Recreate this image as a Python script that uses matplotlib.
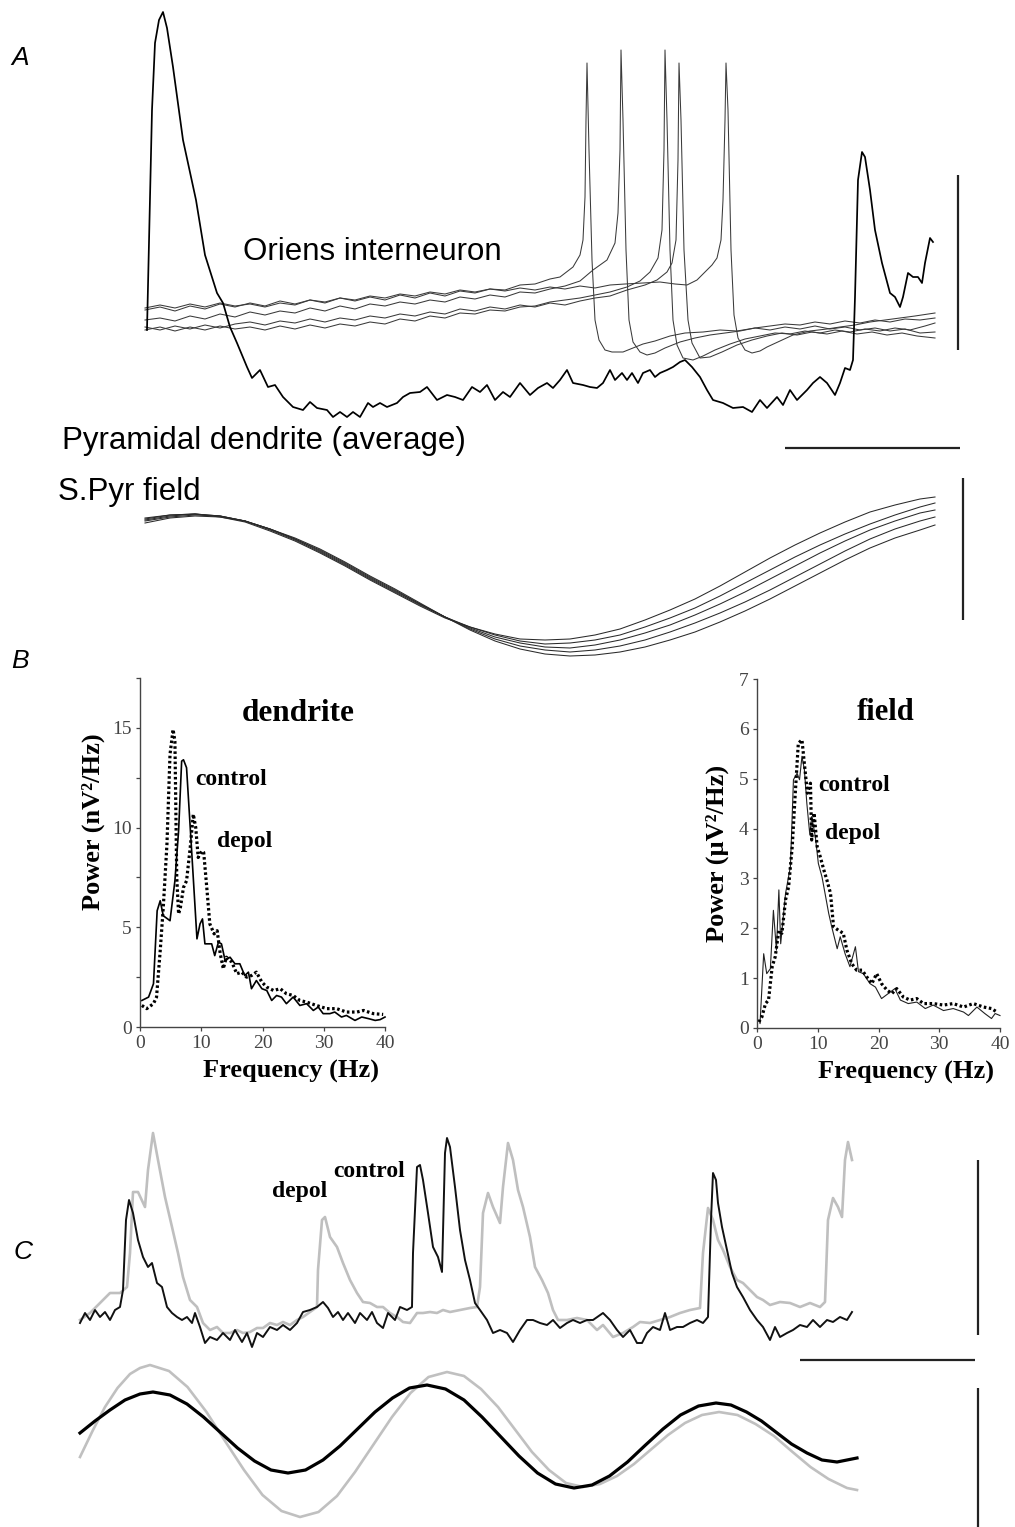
import matplotlib
matplotlib.use('Agg')
import matplotlib.pyplot as plt
from matplotlib.ticker import MultipleLocator

# ---------------- Panel A: oriens interneuron (5 sweeps) + dendrite average ----------------
# time in ms, voltage in mV (relative)
dend_t = [0.4, 1.4, 2.0, 2.8, 3.6, 4.4, 5.6, 7.6, 10.2, 12.0,
          14.4, 15.6, 17.0, 18.4, 20.4, 21.4, 23.0, 24.6, 26.0, 27.6,
          29.6, 31.6, 33.0, 34.4, 36.4, 37.6, 39.0, 40.4, 41.6, 43.0,
          44.6, 45.6, 47.0, 48.4, 50.4, 51.6, 53.0, 55.0, 56.4, 58.4,
          60.4, 62.0, 63.6, 65.4, 67.0, 68.4, 70.0, 71.6, 73.0, 75.0,
          77.0, 78.6, 80.4, 81.6, 83.0, 84.4, 85.6, 87.6, 89.0, 90.4,
          91.6, 93.0, 94.0, 95.4, 96.4, 97.4, 98.6, 99.6, 101.0, 102.0,
          103.0, 104.4, 105.6, 107.0, 108.0, 109.4, 111.0, 112.4, 113.6, 115.6,
          117.6, 119.6, 121.4, 123.0, 124.4, 126.4, 127.6, 129.0, 130.4, 132.4,
          133.6, 135.0, 136.4, 138.0, 139.0, 140.0, 141.0, 141.6, 142.0, 142.6,
          143.4, 144.0, 145.0, 146.0, 147.4, 149.0, 150.0, 151.0, 151.6, 152.6,
          153.6, 154.6, 155.4, 156.0, 157.0, 157.6]
dend_v = [0.0, 22.0, 28.7, 31.0, 31.8, 30.2, 26.3, 19.0, 13.0, 7.5,
          3.7, 2.7, 0.3, -1.3, -3.7, -4.8, -4.0, -5.7, -5.5, -6.7,
          -7.7, -8.0, -7.2, -7.8, -8.0, -8.7, -8.2, -8.7, -8.2, -8.7,
          -7.3, -7.7, -7.3, -7.7, -7.3, -6.7, -6.3, -6.2, -5.7, -7.0,
          -6.5, -6.7, -7.0, -5.7, -6.2, -5.5, -7.0, -6.2, -6.7, -5.3,
          -6.5, -5.8, -5.3, -5.8, -5.0, -4.0, -5.3, -5.5, -5.7, -5.8,
          -5.3, -4.0, -5.0, -4.3, -5.0, -4.3, -5.3, -4.3, -4.0, -4.7,
          -4.3, -4.0, -3.7, -3.2, -3.0, -3.7, -4.7, -6.0, -7.0, -7.3,
          -7.8, -7.7, -8.2, -7.0, -7.8, -6.7, -7.5, -6.0, -7.0, -6.0,
          -5.3, -4.7, -5.3, -6.5, -5.3, -3.8, -4.0, -3.0, 3.3, 15.0,
          17.8, 17.3, 14.0, 10.0, 6.7, 3.7, 3.3, 2.3, 3.3, 5.7,
          5.3, 5.3, 4.7, 6.7, 9.2, 8.8]

in_t1 = [0, 3, 6, 9, 12, 15, 18, 21, 24, 27, 30, 33, 36, 39, 42, 45, 48, 51, 54, 57,
         60, 63, 66, 69, 72, 75, 78, 81, 83, 85.6, 87, 87.6, 88, 88.2, 88.4,
         88.8, 89.4, 90.0, 90.8, 92.0, 93.4, 95.6, 97.6, 99.6,
         102, 105, 108, 111.6, 115, 118.4,
         122, 125, 128, 131, 134, 137, 140, 143, 146, 149, 152, 155, 158]
in_v1 = [2.0, 2.3, 1.9, 2.4, 2.1, 2.6, 2.3, 2.7, 2.4, 2.9, 2.6, 3.0, 2.7, 3.2, 2.9, 3.3, 3.0, 3.5, 3.2, 3.7,
         3.4, 3.9, 3.7, 4.1, 4.0, 4.5, 4.6, 5.1, 5.3, 6.3, 7.5, 9.0, 13.3, 21.0, 26.7,
         18.0, 7.0, 1.0, -1.0, -2.0, -2.2, -2.2, -1.8, -1.4,
         -1.1, -0.6, -0.3, -0.2, 0.0, -0.1,
         0.2, 0.0, 0.3, 0.1, 0.4, 0.1, 0.3, 0.0, 0.2, -0.1, 0.1, -0.3, -0.2]

in_t2 = [0, 3, 6, 9, 12, 15, 18, 21, 24, 27, 30, 33, 36, 39, 42, 45, 48, 51, 54, 57,
         60, 63, 66, 69, 72, 75, 78, 81, 84, 87,
         89.6, 92.4, 94, 94.6, 95, 95.2, 95.6, 96.2, 96.8, 97.6, 99, 100.4, 102, 104, 107, 110, 113, 116, 119,
         122, 125, 128, 131, 134, 137, 140, 143, 146, 149, 152, 155, 158]
in_v2 = [1.0, 1.2, 0.9, 1.4, 1.1, 1.6, 1.3, 1.8, 1.5, 1.9, 1.7, 2.2, 1.9, 2.4, 2.1, 2.6, 2.4, 2.8, 2.6, 3.0,
         2.8, 3.3, 3.1, 3.5, 3.3, 3.8, 3.7, 4.1, 4.4, 4.9,
         6.0, 7.0, 8.7, 11.7, 18.0, 28.0, 21.0, 8.0, 1.0, -1.2, -2.2, -2.5, -2.3, -1.8, -1.2, -0.8, -0.5, -0.3, -0.1,
         0.2, 0.4, 0.6, 0.5, 0.8, 0.6, 0.9, 0.7, 1.0, 0.8, 1.1, 1.0, 1.2]

in_t3 = [0, 3, 6, 9, 12, 15, 18, 21, 24, 27, 30, 33, 36, 39, 42, 45, 48, 51, 54, 57,
         60, 63, 66, 69, 72, 75, 78, 81, 84, 87, 90, 93,
         96.4, 99, 101, 102.6, 103.4, 103.8, 104, 104.4, 105, 105.6,
         106.4, 107.6, 109.6, 111.6, 114, 117, 120, 123, 126, 129,
         132, 135, 138, 141, 144, 147, 150, 153, 156, 158]
in_v3 = [0.0, 0.3, -0.1, 0.3, 0.0, 0.4, 0.1, 0.3, 0.0, 0.4, 0.1, 0.5, 0.2, 0.6, 0.4, 0.8, 0.6, 1.1, 0.9, 1.4,
         1.2, 1.7, 1.6, 2.0, 1.9, 2.3, 2.4, 2.8, 3.0, 3.2, 3.5, 3.8,
         4.3, 4.9, 5.8, 7.2, 10.0, 18.0, 28.0, 21.0, 8.0, 1.0,
         -1.5, -2.8, -3.0, -2.6, -2.0, -1.4, -0.9, -0.6, -0.3, -0.4,
         -0.1, -0.3, 0.0, -0.2, 0.1, -0.1, 0.2, 0.0, 0.4, 0.7]

in_t4 = [0, 3, 6, 9, 12, 15, 18, 21, 24, 27, 30, 33, 36, 39, 42, 45, 48, 51, 54, 57,
         60, 63, 66, 69, 72, 75, 78, 81, 84, 87, 90, 93,
         96.4, 100, 102.4, 104.4, 105.4, 106.2, 106.6, 106.8, 107.2, 107.8,
         108.6, 109.4, 111, 113, 115.4, 118.4, 121.4, 124.4, 127.4, 130.4,
         133.4, 136.4, 139.4, 142.4, 145.4, 148.4, 151.4, 154.4, 158]
in_v4 = [0.3, 0.0, 0.4, 0.1, 0.5, 0.2, 0.6, 0.8, 0.5, 0.9, 0.7, 1.1, 0.8, 1.2, 1.0, 1.4, 1.2, 1.6, 1.4, 1.8,
         1.6, 2.1, 1.9, 2.3, 2.1, 2.5, 2.3, 2.7, 2.5, 2.9, 3.2, 3.4,
         4.0, 4.5, 5.0, 5.8, 6.7, 9.0, 17.0, 26.7, 21.0, 8.0,
         1.0, -1.3, -2.8, -2.7, -2.2, -1.5, -1.0, -0.6, -0.3, -0.5,
         -0.2, -0.4, -0.1, -0.4, -0.2, -0.5, -0.3, -0.6, -0.8]

in_t5 = [0, 3, 6, 9, 12, 15, 18, 21, 24, 27, 30, 33, 36, 39, 42, 45, 48, 51, 54, 57,
         60, 63, 66, 69, 72, 75, 78, 81, 84, 87, 90, 93,
         96, 99.6, 103, 106, 108.4, 110.4, 112, 113.4, 114.4, 115.2,
         115.6, 116, 116.2, 116.6, 117.2, 117.8, 118.6, 120, 121.4, 123,
         124.4, 127, 129.6, 133, 136.4, 139, 142, 145, 148, 151, 154, 158]
in_v5 = [2.2, 2.5, 2.2, 2.6, 2.3, 2.7, 2.4, 2.6, 2.3, 2.7, 2.5, 3.0, 2.8, 3.2, 3.0, 3.4, 3.2, 3.6, 3.4, 3.8,
         3.6, 4.0, 3.8, 4.1, 3.9, 4.2, 4.0, 4.3, 4.1, 4.4, 4.2, 4.5,
         4.6, 4.7, 4.8, 4.6, 4.5, 5.0, 5.8, 6.5, 7.2, 9.0,
         13.0, 21.0, 26.7, 22.0, 8.0, 1.5, -0.8, -2.0, -2.3, -2.1,
         -1.7, -1.1, -0.5, -0.1, 0.1, 0.3, 0.5, 0.8, 1.0, 1.2, 1.4, 1.7]

# S.Pyr field, 5 sweeps
fld_t = [0, 5, 10, 15, 20, 25, 30, 35, 40, 45, 50, 55, 60, 65, 70, 75, 80, 85, 90, 95,
         100, 105, 110, 115, 120, 125, 130, 135, 140, 145, 150, 155, 158]
fld_v1 = [6.2, 6.5, 6.6, 6.3, 5.8, 4.9, 3.9, 2.7, 1.4, 0.0, -1.3, -2.6, -3.8, -4.7, -5.4, -5.9, -6.0, -5.9, -5.5, -4.9,
          -4.0, -3.0, -1.9, -0.6, 0.8, 2.2, 3.5, 4.7, 5.8, 6.8, 7.5, 8.1, 8.3]
fld_v2 = [6.1, 6.5, 6.6, 6.4, 5.9, 5.0, 4.0, 2.8, 1.5, 0.1, -1.2, -2.5, -3.7, -4.7, -5.5, -6.1, -6.4, -6.3, -6.0, -5.5,
          -4.7, -3.8, -2.8, -1.6, -0.3, 1.0, 2.3, 3.5, 4.6, 5.6, 6.5, 7.3, 7.7]
fld_v3 = [6.0, 6.4, 6.6, 6.4, 5.9, 5.1, 4.1, 2.9, 1.6, 0.2, -1.1, -2.4, -3.7, -4.8, -5.7, -6.3, -6.7, -6.8, -6.5, -6.0,
          -5.3, -4.5, -3.5, -2.4, -1.2, 0.1, 1.4, 2.7, 3.9, 5.0, 5.9, 6.7, 7.0]
fld_v4 = [5.9, 6.3, 6.5, 6.4, 5.9, 5.1, 4.1, 3.0, 1.7, 0.3, -1.0, -2.4, -3.7, -4.9, -5.9, -6.6, -7.0, -7.2, -7.0, -6.6,
          -6.0, -5.2, -4.3, -3.3, -2.2, -1.0, 0.3, 1.6, 2.9, 4.1, 5.1, 5.9, 6.3]
fld_v5 = [5.7, 6.2, 6.4, 6.3, 5.9, 5.1, 4.2, 3.1, 1.8, 0.4, -0.9, -2.3, -3.7, -5.0, -6.1, -6.9, -7.4, -7.6, -7.5, -7.2,
          -6.7, -6.0, -5.2, -4.2, -3.1, -1.9, -0.6, 0.7, 2.0, 3.2, 4.2, 5.0, 5.5]

# ---------------- Panel B: power spectra ----------------
dend_f_ctrl = [0.3, 1.4, 2.2, 2.8, 3.3, 3.8, 4.9, 5.7, 6.3, 6.8, 7.1, 7.6, 8.4, 9.3, 9.8, 10.2, 10.6, 11.7, 12.2, 12.8,
               13.3, 13.9, 14.7, 15.5, 16.3, 17.1, 17.7, 18.2, 19.0, 19.9, 20.7, 21.5, 22.3, 23.1, 23.9, 25.0, 26.1,
               27.2, 28.3, 29.1, 29.9, 31.0, 31.8, 32.9, 33.7, 35.1, 36.2, 37.3, 38.4, 39.2, 40.0]
dend_p_ctrl = [1.33, 1.5, 2.17, 5.83, 6.33, 5.58, 5.33, 7.33, 9.83, 13.33, 13.4, 13.0, 9.0, 4.42, 5.17, 5.42, 4.17, 4.17,
               3.58, 4.25, 4.17, 3.33, 3.5, 3.17, 3.17, 2.58, 2.75, 1.92, 2.33, 1.92, 1.83, 1.33, 1.58, 1.5, 1.17, 1.5,
               1.08, 1.17, 0.83, 1.0, 0.67, 0.67, 0.75, 0.5, 0.58, 0.33, 0.5, 0.42, 0.33, 0.37, 0.5]
dend_f_depol = [0.3, 1.1, 2.2, 2.7, 3.3, 3.8, 4.4, 4.9, 5.4, 5.7, 6.0, 6.3, 6.6, 7.1, 7.6, 8.2, 8.7, 9.1, 9.5, 10.1,
                10.4, 10.9, 11.4, 12.1, 12.6, 13.1, 13.6, 14.1, 15.0, 15.8, 16.6, 17.4, 18.2, 19.0, 19.9, 20.7, 21.8,
                22.9, 23.9, 25.0, 26.1, 27.2, 28.8, 30.5, 32.1, 33.7, 35.4, 36.5, 38.1, 39.7]
dend_p_depol = [1.08, 0.92, 1.17, 1.5, 3.83, 6.0, 9.17, 13.67, 14.92, 14.33, 7.5, 5.67, 6.0, 7.0, 7.33, 9.0, 10.67, 10.0,
                8.5, 8.83, 8.75, 7.0, 5.17, 4.67, 4.83, 3.67, 2.92, 3.5, 3.25, 2.67, 2.75, 2.5, 2.58, 2.75, 2.25, 2.0,
                1.83, 1.92, 1.67, 1.58, 1.33, 1.25, 1.08, 0.92, 0.92, 0.75, 0.75, 0.83, 0.67, 0.63]

field_f_ctrl = [0.5, 1.1, 1.6, 2.2, 2.7, 3.2, 3.6, 3.9, 4.7, 5.5, 6.0, 6.6, 7.0, 7.4, 7.8, 8.2, 8.7, 9.0, 9.6, 10.1,
                10.7, 11.2, 11.8, 12.3, 13.2, 13.7, 14.5, 15.3, 16.2, 16.7, 17.5, 18.6, 19.5, 20.5, 21.6, 22.7, 23.6,
                24.9, 26.3, 27.7, 29.0, 30.7, 32.3, 34.0, 34.8, 36.2, 37.5, 38.6, 39.2, 40.0]
field_p_ctrl = [0.09, 1.49, 1.09, 1.19, 2.36, 1.56, 2.77, 1.69, 2.70, 3.24, 4.98, 5.11, 4.98, 5.45, 5.18, 4.51, 3.87,
                4.24, 3.84, 3.30, 3.03, 2.70, 2.30, 2.03, 1.59, 1.83, 1.49, 1.23, 1.63, 1.13, 1.09, 0.89, 0.82, 0.59,
                0.69, 0.79, 0.56, 0.49, 0.52, 0.39, 0.46, 0.35, 0.39, 0.32, 0.25, 0.42, 0.29, 0.19, 0.29, 0.25]
field_f_depol = [0.3, 0.8, 1.4, 1.9, 2.5, 3.0, 3.6, 4.1, 4.7, 5.2, 5.8, 6.3, 6.8, 7.4, 7.9, 8.3, 8.8, 9.0, 9.4, 9.9,
                 10.4, 11.0, 11.5, 12.1, 12.6, 13.4, 14.2, 14.8, 15.6, 16.4, 17.3, 18.1, 18.9, 19.7, 20.5, 21.4, 22.2,
                 23.0, 24.1, 25.2, 26.3, 27.4, 29.0, 30.7, 32.3, 34.0, 35.6, 37.3, 38.6, 39.5]
field_p_depol = [0.12, 0.22, 0.49, 0.56, 1.23, 1.43, 1.96, 1.90, 2.57, 2.83, 3.64, 4.71, 5.71, 5.78, 5.18, 4.71, 4.91,
                 3.77, 4.31, 3.64, 3.44, 3.17, 2.97, 2.70, 2.03, 1.96, 1.90, 1.56, 1.29, 1.16, 1.16, 1.02, 0.89, 1.09,
                 0.89, 0.76, 0.69, 0.79, 0.62, 0.56, 0.59, 0.49, 0.49, 0.46, 0.49, 0.42, 0.49, 0.42, 0.39, 0.32]

# ---------------- Panel C: dendrite (control / depol) and field ----------------
c_ctrl_t = [0, 1, 2, 3, 4, 5, 6, 7, 8, 8.6, 9.2, 9.8, 10.6, 11.6, 12.6, 13.6, 14.4, 15.4, 16.4, 17.4,
            18.4, 19.4, 20.4, 21.4, 22.4, 23, 24, 25, 26, 27.4, 28.6, 30, 31, 32.4, 33.4, 34.4, 35.4, 36.6, 38, 39.4,
            40.6, 42, 43.4, 44.6, 46, 47.4, 48.6, 49.6, 50.6, 51.6, 52.6, 53.6, 55, 56, 57.4, 58.4, 59.4, 60.6, 61.6, 63,
            64, 65.4, 66.4, 66.6, 67.4, 68, 68.6, 69.6, 70.6, 71.6, 72.4, 73, 73.4, 74, 75, 76, 77, 78, 79, 80,
            81.4, 82.6, 84, 85.4, 86.6, 88, 89.4, 90.6, 92, 93.4, 94.6, 96, 97.4, 98.6, 100, 101.4, 102.6, 104.6, 106, 107.4,
            108.6, 110, 111.4, 112.4, 113.4, 114.6, 116, 117, 118, 119.4, 120.6, 122, 123.4, 124.6, 125.6, 126.2, 126.6,
            127.2, 127.6, 128.4, 129.4, 130.4, 131.4, 132.6, 134, 135.4, 136.6, 138, 139, 140,
            141.4, 142.6, 144, 145.4, 146.6, 148, 149.4, 150.6, 152, 153.4, 154.4]
c_ctrl_v = [0.7, 1.7, 1.0, 2.0, 1.3, 1.8, 1.0, 2.0, 2.3, 4.0, 11.0, 13.0, 11.7, 9.0, 7.3, 6.3, 6.7, 4.7, 4.3, 2.3,
            1.7, 1.3, 1.0, 1.3, 0.7, 1.7, 0.3, -1.3, -0.7, -1.0, -0.3, -1.0, 0.0, -1.2, -0.3, -1.7, -0.3, -0.7, 0.3, 0.0,
            0.5, 0.0, 0.7, 1.8, 2.0, 2.3, 2.8, 2.2, 1.3, 1.8, 1.0, 1.7, 0.7, 1.7, 1.0, 1.8, 0.7, 0.2, 1.7, 1.0,
            2.3, 2.0, 2.3, 7.7, 16.3, 16.5, 15.0, 11.7, 8.3, 7.3, 5.8, 17.7, 19.2, 18.3, 14.3, 10.0, 7.0, 5.0, 2.7, 2.0,
            1.0, -0.3, 0.0, -0.3, -1.2, 0.0, 1.0, 1.0, 0.7, 0.5, 1.0, 0.2, 0.7, 1.0, 0.7, 1.0, 1.0, 1.7, 1.0, 0.0,
            -0.7, 0.0, -1.3, -1.3, -0.3, 0.3, 0.0, 1.7, 0.0, 0.3, 0.3, 0.7, 1.0, 0.7, 1.3, 11.0, 15.7,
            15.0, 12.7, 10.3, 8.0, 5.7, 4.3, 3.3, 2.0, 1.0, 0.3, -1.0, 0.3, -0.7,
            -0.3, 0.0, 0.5, 0.3, 1.0, 0.3, 1.0, 0.8, 1.3, 1.0, 1.8]

c_dep_t = [0, 2, 4, 6, 8, 9.4, 10, 10.6, 11.6, 13, 13.6, 14.6, 15.6, 17, 18.4, 19.6, 20.6, 22, 23.4, 24.6,
           26, 27.4, 28.6, 30, 31.4, 32.6, 34, 35.4, 36.6, 38, 39.4, 40.6, 42, 43.4, 44.6, 46, 47.4, 47.6, 48.4, 49,
           50, 51.4, 52.6, 54, 55.4, 56.6, 58, 59.4, 60.6, 62, 63.4, 64.6, 66, 67.4, 68.6, 70, 71.4, 72.6, 74, 76,
           78, 79.4, 80, 80.6, 81.6, 82.6, 84, 84.6, 85.6, 86.6, 87.6, 88.6, 90, 91, 92.4, 93.6, 94.6, 95.6, 97.4, 99.4,
           101.4, 103.4, 104.6, 106.6, 108.6, 110.6, 112, 114, 116, 118, 120, 122, 124, 124.6, 125.6, 126.6, 127.6,
           128.6, 130, 131.4, 132.6, 134, 135.4, 136.6, 138, 140, 142, 144, 146, 148,
           149, 149.6, 150.6, 151.6, 152.4, 153, 153.6, 154.4]
c_dep_v = [1.0, 1.7, 2.7, 3.7, 3.7, 4.3, 7.7, 13.8, 13.8, 12.3, 16.0, 19.7, 17.0, 13.3, 10.3, 7.7, 5.3, 3.0, 2.3, 0.7,
           0.0, 0.3, -0.3, -0.3, 0.0, -0.3, -0.2, 0.2, 0.2, 0.7, 0.5, 0.8, 0.5, 1.0, 1.3, 1.8, 2.3, 6.0, 11.0, 11.3,
           9.3, 8.3, 6.7, 5.0, 3.7, 2.8, 2.7, 2.3, 2.3, 1.7, 1.3, 0.8, 0.7, 1.7, 1.7, 1.8, 1.7, 2.0, 1.8, 2.0,
           2.2, 2.3, 4.3, 11.7, 13.7, 12.3, 10.7, 14.3, 18.7, 17.0, 14.0, 12.3, 9.3, 6.3, 5.0, 3.7, 2.0, 1.0, 1.0, 1.2,
           1.0, 0.0, 0.5, -0.7, -0.3, 0.3, 0.8, 0.7, 1.0, 1.3, 1.7, 2.0, 2.2, 7.7, 12.2, 11.0, 9.0,
           8.0, 6.3, 5.0, 4.7, 4.0, 3.3, 3.0, 2.5, 2.8, 2.7, 2.3, 2.7, 2.3,
           2.8, 11.0, 13.2, 12.3, 11.3, 17.0, 18.8, 17.0]

cf_ctrl_t = [0, 3, 6, 9, 12, 14.6, 18.0, 21.4, 24.7, 28.1, 31.5, 34.9, 38.2, 41.6, 45.1, 48.6, 52.0, 55.5, 59.0,
             62.5, 65.9, 69.4, 73.1, 76.8, 80.4, 84.1, 87.8, 91.5, 95.1, 98.8, 102.4, 105.9, 109.5, 113.0, 116.6,
             120.1, 123.7, 127.2, 130.2, 133.3, 136.3, 139.3, 142.3, 145.4, 148.4, 151.4, 155.4]
cf_ctrl_v = [0.7, 1.9, 3.0, 4.0, 4.6, 4.8, 4.5, 3.6, 2.3, 0.75, -0.8, -2.1, -3.0, -3.3, -3.0, -2.0, -0.6, 1.1, 2.8,
             4.2, 5.2, 5.5, 5.1, 4.0, 2.3, 0.35, -1.6, -3.3, -4.4, -4.8, -4.5, -3.6, -2.2, -0.55, 1.1,
             2.5, 3.4, 3.7, 3.5, 2.8, 1.9, 0.75, -0.4, -1.3, -2.0, -2.2, -1.8]
cf_dep_t = [0, 2.5, 5, 7.5, 10, 12, 14, 17.8, 21.5, 25.3, 29, 32.8, 36.5, 40.3, 44, 47.7, 51.4, 55.0, 58.7, 62.4,
            66.1, 69.7, 73.4, 76.8, 80.2, 83.6, 87.0, 90.4, 93.8, 97.2, 100.6, 104.0, 107.4, 110.8, 114.2, 117.6,
            121.0, 124.4, 127.8, 131.5, 135.1, 138.8, 142.4, 146.1, 149.7, 153.4, 155.4]
cf_dep_v = [-1.7, 0.9, 3.3, 5.2, 6.6, 7.2, 7.5, 6.9, 5.3, 2.8, -0.1, -3.0, -5.5, -7.1, -7.7, -7.2, -5.6, -3.2, -0.45, 2.3,
            4.7, 6.3, 6.8, 6.4, 5.1, 3.3, 1.05, -1.2, -3.0, -4.3, -4.7, -4.4, -3.6, -2.4, -0.95, 0.5,
            1.7, 2.5, 2.8, 2.5, 1.6, 0.4, -1.15, -2.7, -3.9, -4.8, -5.0]

W, H = 1015, 1527
SANS = ['Liberation Sans', 'DejaVu Sans']
SERIF = ['Liberation Serif', 'DejaVu Serif']
plt.rcParams['font.family'] = SERIF
plt.rcParams['lines.solid_joinstyle'] = 'round'

fig = plt.figure(figsize=(W / 100, H / 100), dpi=100)


def px_axes(x0, y0, x1, y1):
    # place an axes from a pixel box (top-left origin)
    return fig.add_axes([x0 / W, 1 - y1 / H, (x1 - x0) / W, (y1 - y0) / H])


def ftext(x, y, s, **kw):
    fig.text(x / W, 1 - y / H, s, **kw)


def scalebar(ax, xs, ys):
    ax.plot(xs, ys, color='#222222', lw=1.6, solid_capstyle='butt', clip_on=False)


# ---- A: intracellular traces ----
axA = px_axes(145, 0, 970, 460)
axA.set_xlim(0, 165)
axA.set_ylim(-13, 33)
axA.axis('off')
for tt, vv in [(in_t1, in_v1), (in_t2, in_v2), (in_t3, in_v3), (in_t4, in_v4), (in_t5, in_v5)]:
    axA.plot(tt, vv, color='#3a3a3a', lw=0.75, clip_on=False)
axA.plot(dend_t, dend_v, color='black', lw=1.25, clip_on=False)
scalebar(axA, [162.6, 162.6], [15.5, -2.0])
scalebar(axA, [128, 163], [-11.8, -11.8])

# ---- A: field traces ----
axF = px_axes(145, 460, 970, 665)
axF.set_xlim(0, 165)
axF.set_ylim(-8.5, 12)
axF.axis('off')
for vv in [fld_v1, fld_v2, fld_v3, fld_v4, fld_v5]:
    axF.plot(fld_t, vv, color='#2a2a2a', lw=0.75, clip_on=False)
scalebar(axF, [163.6, 163.6], [10.2, -4.0])

ftext(11, 65, 'A', family=SANS, style='italic', fontsize=19)
ftext(243, 260, 'Oriens interneuron', family=SANS, fontsize=22.5)
ftext(62, 449, 'Pyramidal dendrite (average)', family=SANS, fontsize=22.5)
ftext(58, 500, 'S.Pyr field', family=SANS, fontsize=22.5)
ftext(11, 668, 'B', family=SANS, style='italic', fontsize=19)
ftext(14, 1259, 'C', family=SANS, style='italic', fontsize=19)


# ---- B: spectra ----
def style_spec(ax):
    for s in ['top', 'right']:
        ax.spines[s].set_visible(False)
    for s in ['left', 'bottom']:
        ax.spines[s].set_color('#444444')
        ax.spines[s].set_linewidth(1.0)
    ax.tick_params(which='both', direction='out', length=3, width=0.9, colors='#444444',
                   labelsize=14, pad=3)
    ax.xaxis.set_major_locator(MultipleLocator(10))
    ax.set_xlim(0, 40)


axB1 = px_axes(140, 678, 385, 1027)
style_spec(axB1)
axB1.set_ylim(0, 17.5)
axB1.yaxis.set_major_locator(MultipleLocator(5))
axB1.yaxis.set_minor_locator(MultipleLocator(2.5))
axB1.plot(dend_f_ctrl, dend_p_ctrl, color='black', lw=1.2, clip_on=False)
axB1.plot(dend_f_depol, dend_p_depol, color='black', lw=2.3, linestyle=(0, (0.8, 0.8)), clip_on=False)

axB2 = px_axes(757, 679, 1000, 1028)
style_spec(axB2)
axB2.set_ylim(0, 7)
axB2.yaxis.set_major_locator(MultipleLocator(1))
axB2.plot(field_f_ctrl, field_p_ctrl, color='#222222', lw=0.8, clip_on=False)
axB2.plot(field_f_depol, field_p_depol, color='black', lw=2.3, linestyle=(0, (0.8, 0.8)), clip_on=False)

bold = dict(family=SERIF, fontweight='bold')
ftext(298, 721, 'dendrite', ha='center', fontsize=22.5, **bold)
ftext(886, 720, 'field', ha='center', fontsize=22, **bold)
ftext(195, 785, 'control', fontsize=17, **bold)
ftext(217, 847, 'depol', fontsize=17, **bold)
ftext(818, 791, 'control', fontsize=17, **bold)
ftext(825, 839, 'depol', fontsize=17, **bold)
ftext(93, 822, 'Power (nV²/Hz)', rotation=90, ha='center', va='center', fontsize=19, **bold)
ftext(717, 853, 'Power (µV²/Hz)', rotation=90, ha='center', va='center', fontsize=19, **bold)
ftext(291, 1078, 'Frequency (Hz)', ha='center', fontsize=19, **bold)
ftext(906, 1079, 'Frequency (Hz)', ha='center', fontsize=19, **bold)

# ---- C: dendrite traces ----
axC1 = px_axes(80, 1125, 985, 1365)
axC1.set_xlim(0, 181)
axC1.set_ylim(-3.5, 20.5)
axC1.axis('off')
axC1.plot(c_dep_t, c_dep_v, color='#bfbfbf', lw=1.9, clip_on=False)
axC1.plot(c_ctrl_t, c_ctrl_v, color='#111111', lw=1.4, clip_on=False)
scalebar(axC1, [179.6, 179.6], [17.0, -0.5])
scalebar(axC1, [144, 179], [-3.0, -3.0])
ftext(333, 1177, 'control', fontsize=17, **bold)
ftext(272, 1197, 'depol', fontsize=17, **bold)

# ---- C: field traces ----
axC2 = px_axes(80, 1365, 985, 1527)
axC2.set_xlim(0, 181)
axC2.set_ylim(-8.7, 7.5)
axC2.axis('off')
axC2.plot(cf_dep_t, cf_dep_v, color='#c0c0c0', lw=1.9, clip_on=False)
axC2.plot(cf_ctrl_t, cf_ctrl_v, color='black', lw=2.3, clip_on=False)
scalebar(axC2, [179.6, 179.6], [5.2, -8.7])

fig.savefig('out.png', dpi=100, facecolor='white')
